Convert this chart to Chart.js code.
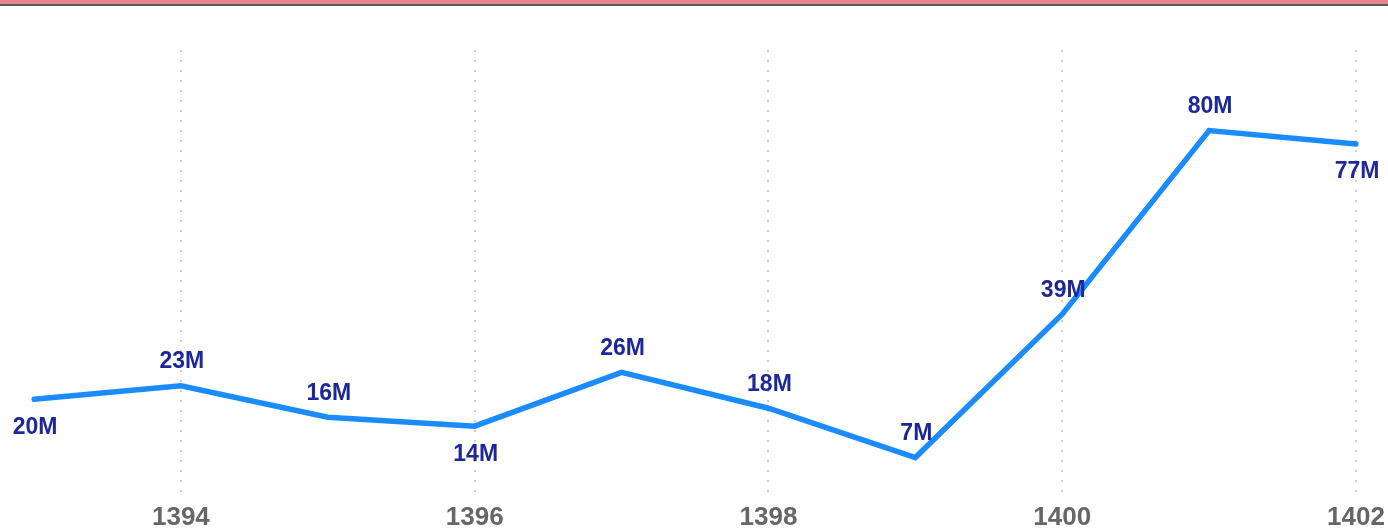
<!DOCTYPE html>
<html>
<head>
<meta charset="utf-8">
<script src="https://cdn.jsdelivr.net/npm/chart.js@4/dist/chart.umd.min.js"></script>
<style>
  html, body { margin: 0; padding: 0; background: #fff; }
  .topbar { position: absolute; left: 0; top: 0; width: 1388px; height: 4px; background: #e8898f; border-bottom: 2px solid #5a5a5a; }
  .wrap { width: 1388px; height: 529px; }
</style>
</head>
<body>
<div class="topbar"></div>
<div class="wrap"><canvas id="grafico"></canvas></div>
<script>
const anos = ['1393', '1394', '1395', '1396', '1397', '1398', '1399', '1400', '1401', '1402'];
const valores = [20, 23, 16, 14, 26, 18, 7, 39, 80, 77];
const rotulos = ['20M', '23M', '16M', '14M', '26M', '18M', '7M', '39M', '80M', '77M'];
// onde fica cada rótulo: acima (1) ou abaixo (-1) do ponto
const lado = [-1, 1, 1, -1, 1, 1, 1, 1, 1, -1];

const rotulosPlugin = {
    id: 'rotulos',
    afterDatasetsDraw(chart) {
        const ctx = chart.ctx;
        const meta = chart.getDatasetMeta(0);
        ctx.save();
        ctx.font = 'bold 23px "Liberation Sans", Arial, sans-serif';
        ctx.fillStyle = '#1c279b';
        ctx.textAlign = 'center';
        ctx.textBaseline = 'middle';
        meta.data.forEach((p, i) => {
            ctx.fillText(rotulos[i], p.x + 1, p.y - lado[i] * 26 + 2);
        });
        ctx.restore();
    }
};

new Chart(document.getElementById('grafico'), {
    type: 'line',
    data: {
        labels: anos,
        datasets: [{
            data: valores,
            borderColor: '#1a8cff',
            borderWidth: 5.5,
            borderCapStyle: 'round',
            pointRadius: 0,
            tension: 0,
            fill: false
        }]
    },
    options: {
        responsive: true,
        maintainAspectRatio: false,
        animation: false,
        layout: { padding: { left: 34, right: 32, top: 50, bottom: 0 } },
        plugins: {
            legend: { display: false },
            tooltip: { enabled: false }
        },
        scales: {
            x: {
                offset: false,
                border: { display: false, dash: [2, 8], dashOffset: 0 },
                grid: {
                    drawTicks: false,
                    lineWidth: 2,
                    color: c => (c.index % 2 === 1 ? '#cccccc' : 'rgba(0,0,0,0)')
                },
                ticks: {
                    autoSkip: false,
                    maxRotation: 0,
                    padding: 13,
                    color: '#666666',
                    font: { family: '"Liberation Sans", Arial, sans-serif', size: 26, weight: 'bold', lineHeight: 1 },
                    callback: function (v, i) { return i % 2 === 1 ? anos[i] : ''; }
                },
                afterFit(s) {
                    s.height = 37;
                    s.paddingLeft = 0;
                    s.paddingRight = 0;
                }
            },
            y: {
                display: false,
                min: -0.7,
                max: 98
            }
        }
    },
    plugins: [rotulosPlugin]
});
</script>
</body>
</html>
